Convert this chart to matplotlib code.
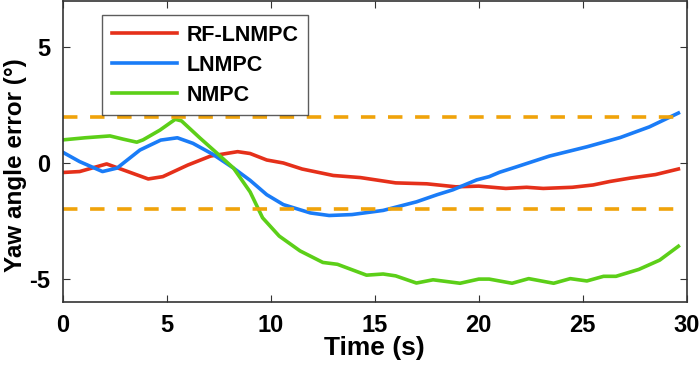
import numpy as np
import matplotlib
matplotlib.use('Agg')
import matplotlib.pyplot as plt

# RF-LNMPC
t_rf = [0, 0.8, 2.1, 2.9, 4.1, 4.8, 6.0, 7.1, 8.4, 9.0, 9.8, 10.6, 11.5, 13.0, 14.3, 16.0, 17.5,
        18.9, 20.0, 21.3, 22.3, 23.1, 24.5, 25.5, 26.3, 27.3, 28.5, 29.6]
y_rf = [-0.41, -0.37, -0.04, -0.3, -0.69, -0.59, -0.09, 0.3, 0.49, 0.41, 0.13, 0.0, -0.26, -0.54, -0.63, -0.86, -0.9,
        -1.03, -1.0, -1.1, -1.05, -1.1, -1.05, -0.95, -0.8, -0.65, -0.5, -0.26]

# LNMPC
t_ln = [0, 0.8, 1.9, 2.6, 3.7, 4.7, 5.5, 6.25, 7.2, 8.2, 9.0, 9.8, 10.6, 11.9, 12.8, 13.9, 15.4, 17.0,
        18.0, 18.75, 19.9, 20.5, 21.0, 21.8, 23.4, 25.2, 26.8, 28.2, 29.6]
y_ln = [0.46, 0.06, -0.37, -0.22, 0.56, 0.99, 1.09, 0.85, 0.38, -0.22, -0.75, -1.37, -1.8, -2.16, -2.27, -2.23, -2.05, -1.68,
        -1.37, -1.16, -0.73, -0.59, -0.4, -0.17, 0.3, 0.7, 1.1, 1.56, 2.16]

# NMPC
t_nm = [0, 1.06, 2.26, 2.9, 3.55, 3.85, 4.66, 5.4, 5.7, 6.6, 7.4, 8.2, 9.0, 9.6, 10.4, 11.4, 12.5, 13.2,
        14.6, 15.4, 16.0, 17.0, 17.8, 19.1, 20.0, 20.5, 21.6, 22.4, 23.6, 24.4, 25.2, 26.0, 26.6, 27.7, 28.7, 29.6]
y_nm = [1.0, 1.09, 1.17, 1.03, 0.9, 1.0, 1.42, 1.89, 1.82, 1.07, 0.43, -0.22, -1.25, -2.37, -3.16, -3.8, -4.3, -4.38,
        -4.85, -4.8, -4.88, -5.19, -5.05, -5.2, -5.02, -5.02, -5.2, -5.0, -5.2, -5.0, -5.1, -4.9, -4.9, -4.6, -4.2, -3.6]

bound = 2
xticks = [0, 5, 10, 15, 20, 25, 30]
yticks = [-5, 0, 5]

plt.rcParams['font.family'] = ['Liberation Sans', 'DejaVu Sans']
plt.rcParams['font.weight'] = 'bold'
plt.rcParams['axes.unicode_minus'] = False

fig = plt.figure(figsize=(7, 3.68), dpi=100)
ax = fig.add_axes([0.09, 0.18, 0.891, 0.817])

ax.plot(t_rf, y_rf, color='#e5301a', lw=2.6, label='RF-LNMPC')
ax.plot(t_ln, y_ln, color='#1a7cf7', lw=2.6, label='LNMPC')
ax.plot(t_nm, y_nm, color='#5ccf18', lw=2.6, label='NMPC')
ax.plot([0, 29.6], [bound, bound], color='#f0a30a', lw=2.6, dashes=(4, 3.5))
ax.plot([0, 29.6], [-bound, -bound], color='#f0a30a', lw=2.6, dashes=(4, 3.5))

ax.set_xlim(0, 30)
ax.set_ylim(-6, 7)
ax.set_xticks(xticks)
ax.set_yticks(yticks)
ax.tick_params(direction='in', top=True, right=True, labelsize=17, length=5, color='#333333', pad=9)
for lbl in ax.get_xticklabels() + ax.get_yticklabels():
    lbl.set_fontweight('bold')
for s in ax.spines.values():
    s.set_color('#333333')
    s.set_linewidth(1.2)

ax.set_xlabel('Time (s)', fontsize=19, fontweight='bold', labelpad=-1)
ax.set_ylabel('Yaw angle error (°)', fontsize=17.5, fontweight='bold')
ax.yaxis.set_label_coords(-0.058, 0.455)

leg = ax.legend(loc='upper left', bbox_to_anchor=(0.046, 0.99), fontsize=15.5, frameon=True,
                fancybox=False, edgecolor='#333333', handlelength=3.0, borderpad=0.45,
                labelspacing=0.42, handletextpad=0.45)
leg.get_frame().set_linewidth(1.0)
for txt in leg.get_texts():
    txt.set_fontweight('bold')

fig.savefig('out.png', dpi=100)
